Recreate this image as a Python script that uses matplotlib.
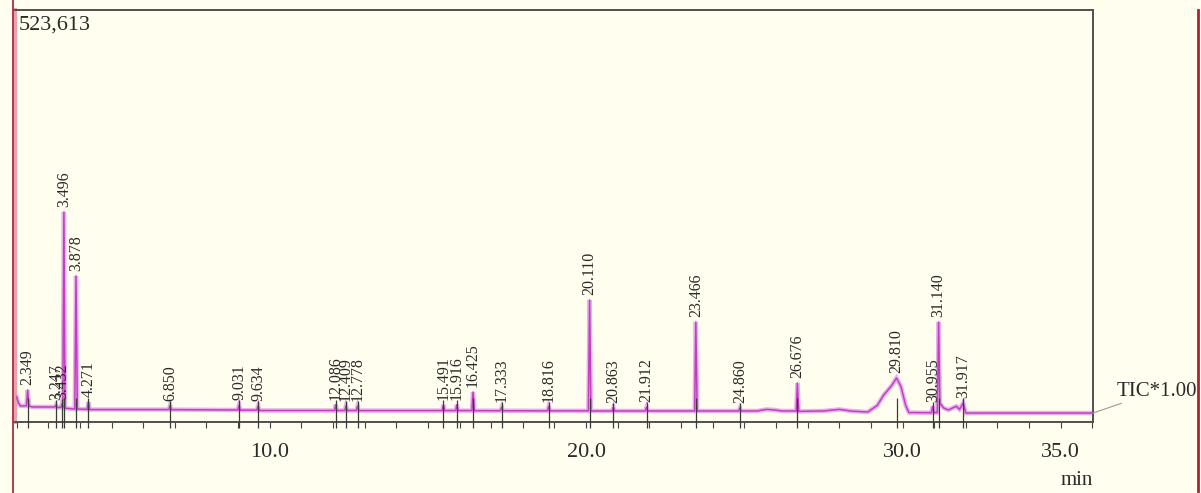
# GC-MS total ion chromatogram (TIC)

import numpy as np
import matplotlib.pyplot as plt
from matplotlib.lines import Line2D
from matplotlib.ticker import FixedLocator, MultipleLocator

# trace: retention time (min) and TIC intensity
trace_time = [2.00, 2.06, 2.12, 2.31, 2.349, 2.39, 2.50, 3.21, 3.247, 3.29,
              3.40, 3.432, 3.46, 3.496, 3.53, 3.84, 3.878, 3.92, 4.23, 4.271,
              4.31, 6.81, 6.850, 6.89, 8.99, 9.031, 9.07, 9.59, 9.634, 9.67,
              12.05, 12.086, 12.12, 12.37, 12.409, 12.45, 12.74, 12.778, 12.82,
              15.45, 15.491, 15.53, 15.88, 15.916, 15.95, 16.39, 16.425, 16.47,
              17.29, 17.333, 17.37, 18.78, 18.816, 18.86, 20.07, 20.110, 20.15,
              20.82, 20.863, 20.90, 21.87, 21.912, 21.95, 23.43, 23.466, 23.51,
              24.82, 24.860, 24.90, 25.40, 25.70, 25.90, 26.20, 26.64, 26.676,
              26.72, 27.50, 28.00, 28.40, 28.90, 29.20, 29.40, 29.65, 29.810,
              29.95, 30.10, 30.20, 30.91, 30.955, 31.00, 31.10, 31.140, 31.18,
              31.30, 31.45, 31.70, 31.80, 31.917, 32.00, 36.02]
trace_tic = [31800, 24000, 20500, 20500, 40700, 20300, 19100, 19100, 21600, 18500,
             18500, 22900, 18500, 266900, 17500, 16500, 185600, 16500, 16000, 25400,
             15800, 15800, 21000, 15700, 15300, 21500, 15000, 15000, 20300, 14600,
             14600, 22000, 14600, 14600, 20300, 14600, 14600, 20300, 14500,
             14500, 21600, 14500, 14500, 22000, 14500, 14500, 38100, 14400,
             14300, 19000, 14300, 14200, 19700, 14200, 14200, 155100, 14000,
             14000, 18500, 14000, 14000, 19000, 14000, 14000, 127100, 14000,
             14000, 17800, 14000, 14000, 16000, 15500, 14000, 14000, 49600,
             13500, 14000, 16000, 13800, 12700, 21000, 34000, 46000, 55900,
             45000, 21000, 12000, 11800, 20000, 12000, 12000, 127100, 24000,
             17800, 15300, 20000, 16000, 24100, 11400, 11400]

peak_times = [2.349, 3.247, 3.432, 3.496, 3.878, 4.271, 6.850, 9.031, 9.634,
              12.086, 12.409, 12.778, 15.491, 15.916, 16.425, 17.333, 18.816,
              20.110, 20.863, 21.912, 23.466, 24.860, 26.676, 29.810, 30.955,
              31.140, 31.917]
peak_labels = ['2.349', '3.247', '3.432', '3.496', '3.878', '4.271', '6.850',
               '9.031', '9.634', '12.086', '12.409', '12.778', '15.491', '15.916',
               '16.425', '17.333', '18.816', '20.110', '20.863', '21.912',
               '23.466', '24.860', '26.676', '29.810', '30.955', '31.140', '31.917']

y_max = 523613
x_ticks = [10.0, 20.0, 30.0, 35.0]
x_tick_labels = ['10.0', '20.0', '30.0', '35.0']

bg = '#FFFEEF'
serif = ['Liberation Serif', 'DejaVu Serif']

fig = plt.figure(figsize=(12.01, 4.93), dpi=100, facecolor=bg)
ax = fig.add_axes([0.0125, 0.144, 0.8976, 0.836], facecolor=bg)

# trace: light halo under a magenta core
ax.plot(trace_time, trace_tic, color='#E8B0EC', lw=3.2, solid_joinstyle='miter', zorder=2)
ax.plot(trace_time, trace_tic, color='#C040C0', lw=1.1, zorder=3)

# peak markers and retention time labels
heights = np.interp(peak_times, trace_time, trace_tic)
label_y = heights + 6000
ax.vlines(peak_times, -7000, np.minimum(label_y, 30000), color='#3a3a3a', lw=0.9,
          zorder=4, clip_on=False)
for t, y, s in zip(peak_times, label_y, peak_labels):
    ax.text(t, y, s, rotation=90, ha='center', va='bottom', fontsize=11.5,
            family=serif, color='#2a2a2a', zorder=5)

ax.set_xlim(1.95, 36.02)
ax.set_ylim(0, y_max)
ax.set_yticks([])
ax.xaxis.set_major_locator(FixedLocator(x_ticks))
ax.set_xticklabels(x_tick_labels)
ax.xaxis.set_minor_locator(MultipleLocator(1.0))
ax.tick_params(axis='x', which='both', direction='out', length=4, width=0.8,
               color='#444444', pad=11, labelsize=16, labelcolor='#2a2a2a')
for lbl in ax.get_xticklabels():
    lbl.set_family(serif)

for side in ['top', 'right', 'bottom']:
    ax.spines[side].set_color('#505050')
    ax.spines[side].set_linewidth(1.4)
ax.spines['left'].set_color('#EBA0B0')
ax.spines['left'].set_linewidth(3)

ax.text(0.003, 0.985, '523,613', transform=ax.transAxes, ha='left', va='top',
        fontsize=16, family=serif, color='#2a2a2a')
ax.text(0.985, -0.143, 'min', transform=ax.transAxes, ha='center', va='center',
        fontsize=15, family=serif, color='#2a2a2a')
ax.annotate('TIC*1.00', xy=(trace_time[-1], trace_tic[-1]), xycoords='data',
            xytext=(24, 22), textcoords='offset pixels', ha='left', va='center',
            fontsize=15, family=serif, color='#2a2a2a', annotation_clip=False,
            arrowprops=dict(arrowstyle='-', color='#9a9a9a', lw=0.8,
                            shrinkA=0, shrinkB=0))

# window borders left and right
fig.add_artist(Line2D([12.5 / 1201] * 2, [0, 1], transform=fig.transFigure,
                      color='#A83040', lw=1.3))
fig.add_artist(Line2D([1198 / 1201] * 2, [0.005, 0.98], transform=fig.transFigure,
                      color='#B02030', lw=2))

fig.savefig('out.png', dpi=100, facecolor=bg)
